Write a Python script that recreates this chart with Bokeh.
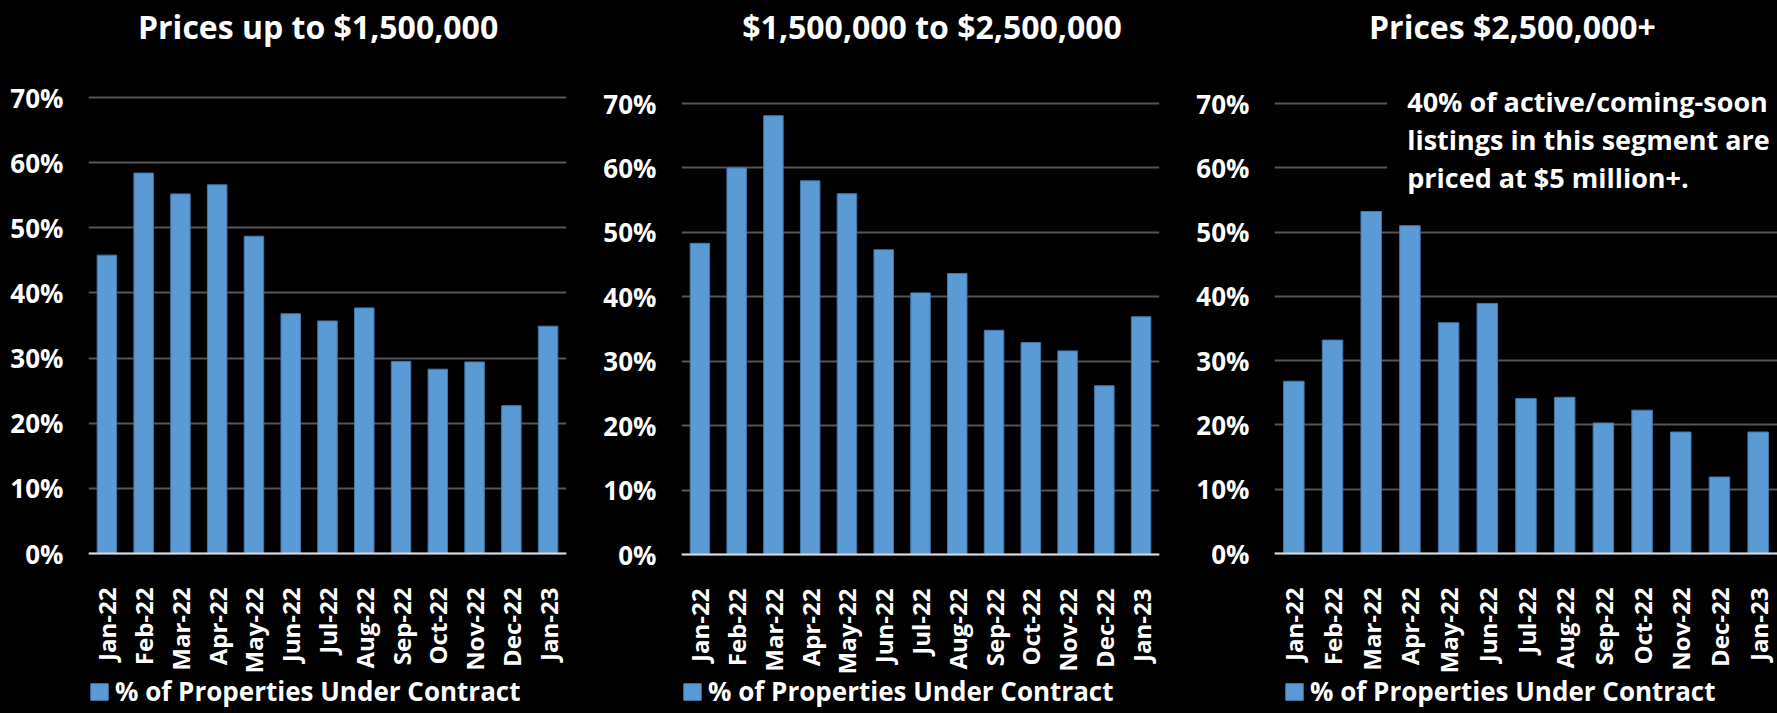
import math
from bokeh.plotting import figure
from bokeh.layouts import row
from bokeh.models import (ColumnDataSource, FactorRange, Range1d, FixedTicker,
                          PrintfTickFormatter, Label, Legend, LegendItem,
                          BoxAnnotation, GlobalInlineStyleSheet)
from bokeh.embed import file_html
from bokeh.resources import INLINE

# ---------------- data ----------------
months = ["Jan-22", "Feb-22", "Mar-22", "Apr-22", "May-22", "Jun-22", "Jul-22",
          "Aug-22", "Sep-22", "Oct-22", "Nov-22", "Dec-22", "Jan-23"]
prices_up_to_1_5m = [45.8, 58.4, 55.2, 56.6, 48.7, 36.8, 35.7, 37.7, 29.5, 28.3, 29.4, 22.7, 34.9]
prices_1_5m_to_2_5m = [48.3, 60.0, 68.1, 58.0, 56.0, 47.3, 40.6, 43.6, 34.8, 32.9, 31.6, 26.2, 36.9]
prices_over_2_5m = [26.8, 33.2, 53.2, 51.0, 35.9, 38.9, 24.1, 24.3, 20.3, 22.3, 18.9, 11.9, 18.9]
panel_titles = ["Prices up to $1,500,000", "$1,500,000 to $2,500,000", "Prices $2,500,000+"]
y_ticks = [0, 10, 20, 30, 40, 50, 60, 70]
series_label = "% of Properties Under Contract"
note_lines = ["40% of active/coming-soon",
              "listings in this segment are",
              "priced at $5 million+."]

FONT = "Open Sans"
BLUE = "#5B9BD5"
H = 713
Y_MAX = 70


def make_panel(values, title, width, left, right, top70, zero_px, title_x, legend_x, legend_y):
    # the frame covers the whole height; the x axis is pinned at y = 0
    px = Y_MAX / (zero_px - top70)            # data units per pixel
    y_top = Y_MAX + top70 * px
    y_bot = -(H - zero_px) * px
    p = figure(x_range=FactorRange(*months), y_range=Range1d(y_bot, y_top),
               width=width, height=H, output_backend="svg", toolbar_location=None,
               title=None, min_border_left=left, min_border_right=right,
               min_border_top=0, min_border_bottom=0)
    p.background_fill_color = "black"
    p.border_fill_color = "black"
    p.outline_line_color = None

    src = ColumnDataSource(dict(month=months, value=values))
    r = p.vbar(x="month", top="value", bottom=0, width=0.53, source=src,
               fill_color=BLUE, line_color="#4277AC", line_width=1)

    ticker = FixedTicker(ticks=y_ticks)
    p.yaxis.ticker = ticker
    p.yaxis.formatter = PrintfTickFormatter(format="%d%%")
    p.yaxis.axis_line_color = None
    p.yaxis.major_tick_line_color = None
    p.yaxis.minor_tick_line_color = None
    p.yaxis.major_label_standoff = 19
    p.yaxis.major_label_text_font_size = "26px"

    p.xaxis.fixed_location = 0
    p.xaxis.major_label_orientation = math.pi / 2
    p.xaxis.major_label_standoff = 28
    p.xaxis.axis_line_color = "#D9D9D9"
    p.xaxis.axis_line_width = 2
    p.xaxis.major_tick_line_color = None
    p.xaxis.minor_tick_line_color = None
    p.xaxis.major_label_text_font_size = "24px"

    for ax in (p.xaxis, p.yaxis):
        ax.major_label_text_font = FONT
        ax.major_label_text_font_style = "bold"
        ax.major_label_text_color = "white"

    p.xgrid.grid_line_color = None
    p.ygrid.ticker = ticker
    p.ygrid.grid_line_color = "#555555"
    p.ygrid.grid_line_width = 2

    # chart title (top of the frame, above the 70% line)
    p.add_layout(Label(x=title_x, y=y_top - 25.5 * px, text=title, text_align="center",
                       text_baseline="middle", text_font=FONT,
                       text_font_size="32px", text_font_style="bold",
                       text_color="white"))

    legend = Legend(items=[LegendItem(label=series_label, renderers=[r])],
                    location=(legend_x, legend_y), orientation="horizontal",
                    glyph_width=22, glyph_height=21, label_standoff=5,
                    padding=0, margin=0, border_line_color=None,
                    background_fill_alpha=0, label_text_font=FONT,
                    label_text_font_size="26px", label_text_font_style="bold",
                    label_text_baseline="alphabetic",
                    label_text_color="white")
    p.add_layout(legend, "center")
    return p, px, y_top


p1, _, _ = make_panel(prices_up_to_1_5m, panel_titles[0], 598, 88, 32, 97, 553, 6.244, 0, 4)
p2, _, _ = make_panel(prices_1_5m_to_2_5m, panel_titles[1], 595, 83, 34, 103, 554, 6.815, 0, 4)
p3, px3, top3 = make_panel(prices_over_2_5m, panel_titles[2], 584, 81, 0, 103, 553, 6.15, 9, 4)

# callout in the third panel (black box hides the grid lines behind the text)
p3.add_layout(BoxAnnotation(left=2.91, bottom=55, fill_color="black", fill_alpha=1,
                            line_color=None, level="glyph"))
for i, line in enumerate(note_lines):
    mid_px = 100.6 + 38.3 * i
    p3.add_layout(Label(x=3.43, y=top3 - mid_px * px3, text=line,
                        text_align="left", text_baseline="middle",
                        text_font=FONT, text_font_size="27px",
                        text_font_style="bold", text_color="white"))

layout = row(p1, p2, p3, spacing=0,
             stylesheets=[GlobalInlineStyleSheet(css="html, body { background-color: #000000; }")])

open("out.html", "w").write(file_html(layout, INLINE))
